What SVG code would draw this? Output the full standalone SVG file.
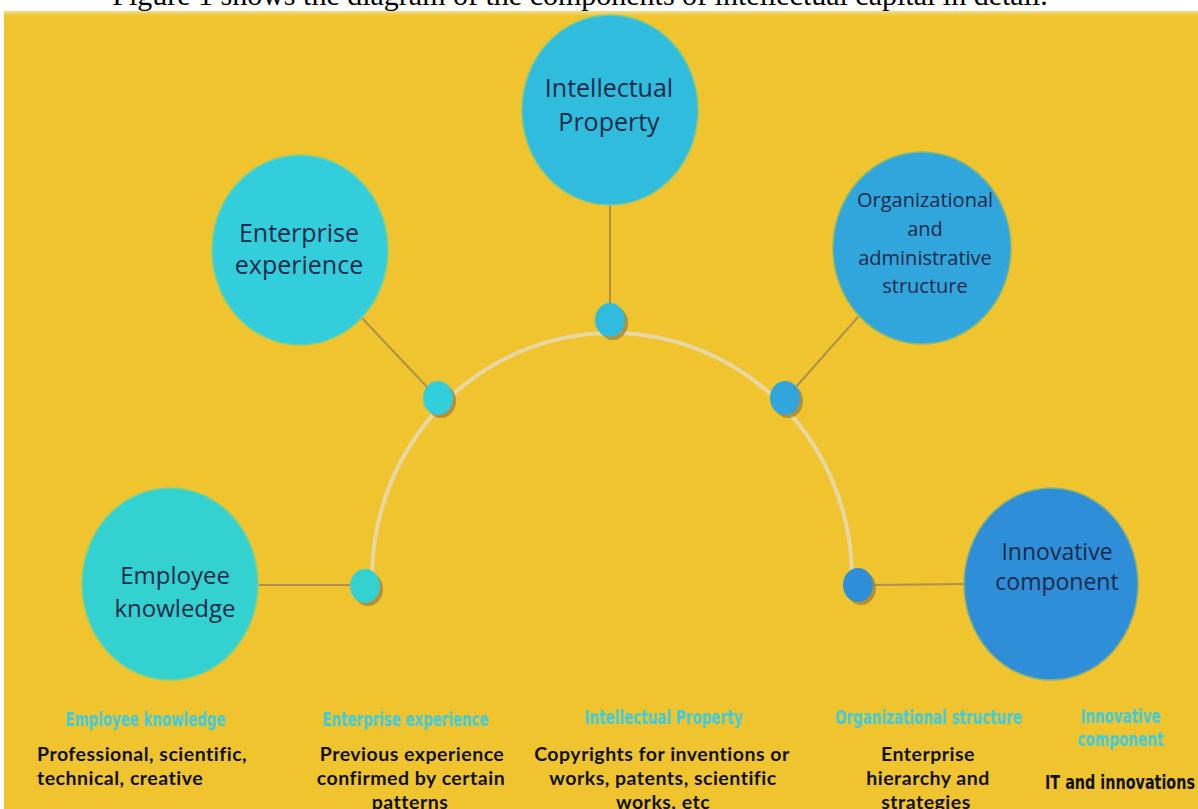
<svg xmlns="http://www.w3.org/2000/svg" width="1198" height="809" viewBox="0 0 1198 809">
  <defs>
    <linearGradient id="topband" x1="0" y1="0" x2="0" y2="1">
      <stop offset="0" stop-color="#F3DE8A"/>
      <stop offset="1" stop-color="#EFC42F"/>
    </linearGradient>
    <filter id="soft" x="-10%" y="-30%" width="120%" height="160%">
      <feGaussianBlur stdDeviation="0.6"/>
    </filter>
  </defs>
  <style>
    .caption { font-family: "Liberation Serif", "Times New Roman", serif; font-size: 30px; fill: #000; }
    .node-text { font-family: "Open Sans", "Noto Sans", sans-serif; fill: #1B2A48; text-anchor: middle; }
    .link { stroke: #B0914A; stroke-width: 2; fill: none; }
    .arc { stroke: #E8D7A2; stroke-width: 4; fill: none; }
    .shadow { fill: #A8873A; opacity: 0.85; }
    .hdr { font-family: "DejaVu Sans Condensed", "Liberation Sans Narrow", sans-serif; font-weight: bold; font-size: 19px; fill: #3ACBE2; text-anchor: middle; }
    .body { font-family: Lato, "Open Sans", sans-serif; font-weight: bold; font-size: 19.5px; letter-spacing: 0.5px; fill: #111; }
    .mid { text-anchor: middle; }
  </style>

  <rect x="0" y="0" width="1198" height="809" fill="#FFFFFF"/>
  <rect x="4" y="11" width="1194" height="798" fill="#EFC42F"/>
  <rect x="4" y="11" width="1194" height="5" fill="url(#topband)"/>
  <text class="caption" x="580" y="5" text-anchor="middle">Figure 1 shows the diagram of the components of intellectual capital in detail.</text>

  <g id="connectors">
    <path class="arc" d="M 372 578 A 240 245 0 0 1 852 578"/>
    <line class="link" x1="258" y1="585" x2="350" y2="585"/>
    <line class="link" x1="362" y1="318" x2="428" y2="388"/>
    <line class="link" x1="610" y1="205" x2="610" y2="304"/>
    <line class="link" x1="858" y1="317" x2="795" y2="388"/>
    <line class="link" x1="873" y1="585" x2="964" y2="584"/>
  </g>

  <g id="dots">
    <ellipse class="shadow" cx="368" cy="589" rx="15" ry="17"/>
    <ellipse cx="365" cy="586" rx="15" ry="17" fill="#33D1D0"/>
    <ellipse class="shadow" cx="441" cy="401" rx="15" ry="17"/>
    <ellipse cx="438" cy="398" rx="15" ry="17" fill="#33CEDC"/>
    <ellipse class="shadow" cx="613" cy="323" rx="15" ry="17"/>
    <ellipse cx="610" cy="320" rx="15" ry="17" fill="#30BCDD"/>
    <ellipse class="shadow" cx="788" cy="401" rx="15" ry="17"/>
    <ellipse cx="785" cy="398" rx="15" ry="17" fill="#30A6DC"/>
    <ellipse class="shadow" cx="861" cy="588" rx="15" ry="17"/>
    <ellipse cx="858" cy="585" rx="15" ry="17" fill="#2E8FD8"/>
  </g>

  <g id="node-employee">
    <ellipse cx="170" cy="584" rx="88" ry="96" fill="#33D1D0" stroke="#7FD08A" stroke-width="1.5"/>
    <text class="node-text" x="175" y="584" font-size="24">Employee</text>
    <text class="node-text" x="175" y="617" font-size="24">knowledge</text>
  </g>

  <g id="node-enterprise">
    <ellipse cx="300" cy="250" rx="88" ry="95" fill="#33CEDC" stroke="#7FD08A" stroke-width="1.5"/>
    <text class="node-text" x="299" y="242" font-size="25">Enterprise</text>
    <text class="node-text" x="299" y="274" font-size="25">experience</text>
  </g>

  <g id="node-ip">
    <ellipse cx="610" cy="110" rx="88" ry="95" fill="#30BCDD" stroke="#7FC890" stroke-width="1.5"/>
    <text class="node-text" x="609" y="97" font-size="25">Intellectual</text>
    <text class="node-text" x="609" y="131" font-size="25">Property</text>
  </g>

  <g id="node-org">
    <ellipse cx="922" cy="248" rx="89" ry="96" fill="#30A6DC" stroke="#86B87A" stroke-width="1.5"/>
    <text class="node-text" x="925" y="207" font-size="20">Organizational</text>
    <text class="node-text" x="925" y="236" font-size="20">and</text>
    <text class="node-text" x="925" y="265" font-size="20">administrative</text>
    <text class="node-text" x="925" y="293" font-size="20">structure</text>
  </g>

  <g id="node-innov">
    <ellipse cx="1051" cy="584" rx="87" ry="96" fill="#2E8FD8" stroke="#8AB07A" stroke-width="1.5"/>
    <text class="node-text" x="1057" y="560" font-size="23">Innovative</text>
    <text class="node-text" x="1057" y="590" font-size="23">component</text>
  </g>

  <g id="legend">
    <g filter="url(#soft)">
      <text class="hdr" x="146" y="726" textLength="160" lengthAdjust="spacingAndGlyphs">Employee knowledge</text>
      <text class="hdr" x="406" y="726" textLength="166" lengthAdjust="spacingAndGlyphs">Enterprise experience</text>
      <text class="hdr" x="664" y="724" textLength="158" lengthAdjust="spacingAndGlyphs">Intellectual Property</text>
      <text class="hdr" x="929" y="724" textLength="187" lengthAdjust="spacingAndGlyphs">Organizational structure</text>
      <text class="hdr" x="1121" y="723" textLength="80" lengthAdjust="spacingAndGlyphs">Innovative</text>
      <text class="hdr" x="1121" y="746" textLength="86" lengthAdjust="spacingAndGlyphs">component</text>
    </g>
    <text class="body" x="37" y="761">Professional, scientific,</text>
    <text class="body" x="37" y="785">technical, creative</text>
    <text class="body mid" x="412" y="761">Previous experience</text>
    <text class="body mid" x="411" y="785">confirmed by certain</text>
    <text class="body mid" x="410" y="809">patterns</text>
    <text class="body mid" x="662" y="761">Copyrights for inventions or</text>
    <text class="body mid" x="663" y="785">works, patents, scientific</text>
    <text class="body mid" x="663" y="809">works, etc</text>
    <text class="body mid" x="928" y="761">Enterprise</text>
    <text class="body mid" x="928" y="785">hierarchy and</text>
    <text class="body mid" x="926" y="809">strategies</text>
    <text x="1120" y="789" text-anchor="middle" font-family="DejaVu Sans Condensed, Liberation Sans Narrow, sans-serif" font-weight="bold" font-size="19" fill="#111" textLength="150" lengthAdjust="spacingAndGlyphs">IT and innovations</text>
  </g>
</svg>
